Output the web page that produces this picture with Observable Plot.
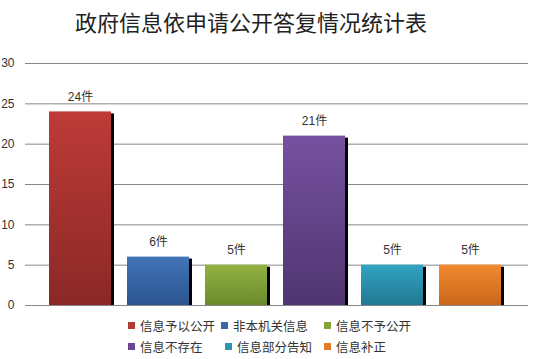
<!DOCTYPE html>
<html><head><meta charset="utf-8">
<script src="https://cdn.jsdelivr.net/npm/d3@7"></script>
<script src="https://cdn.jsdelivr.net/npm/@observablehq/plot@0.6"></script>
<style>
body{margin:0;background:#fff;font-family:"Noto Sans CJK SC",sans-serif;width:538px;height:359px;overflow:hidden;}
#title{height:40px;line-height:42px;font-size:22px;color:#222;padding-left:75px;white-space:nowrap;}
#chart svg{display:block;}
.lrow{display:flex;height:21px;align-items:center;padding-left:128px;font-size:12.5px;color:#333;white-space:nowrap;}
.item{display:flex;align-items:center;}
.sw{width:7px;height:7px;margin-right:5px;}
</style></head><body>
<div id="title">政府信息依申请公开答复情况统计表</div>
<div id="chart"></div>
<div id="legend"></div>
<script>
const categories = ["信息予以公开","非本机关信息","信息不予公开","信息不存在","信息部分告知","信息补正"];
const values = [24, 6, 5, 21, 5, 5];
const labels = values.map(v => v + "件");
const topColors = ["#be3b38","#4174b8","#93b342","#7651a0","#31a4c2","#f28a2e"];
const bottomColors = ["#8a2826","#2b5590","#6c8a2c","#4f3570","#217891","#c9661a"];
const legendColors = ["#b13835","#3a69a8","#86a43c","#6a4891","#2b97b3","#e57d26"];
const yTicks = [0, 5, 10, 15, 20, 25, 30];
const legendRows = [[0,1,2],[3,4,5]];
const legendWidths = [[93,103],[97,99]];

const data = categories.map((c, i) => ({cat: c, value: values[i], label: labels[i], fill: `url(#grad${i})`}));

const plot = Plot.plot({
  width: 538, height: 275,
  marginTop: 23, marginBottom: 10, marginLeft: 25, marginRight: 10,
  x: {domain: categories, axis: null, paddingInner: 0.2, paddingOuter: 0.1, insetLeft: 15, insetRight: 17},
  y: {domain: [0, 30], ticks: yTicks, label: null, tickSize: 0, tickPadding: 11},
  color: {type: "identity"},
  style: {fontFamily: "'Liberation Sans','Noto Sans CJK SC',sans-serif", fontSize: "12px", color: "#333", background: "#fff"},
  marks: [
    Plot.ruleY(yTicks, {stroke: "#878787", strokeWidth: 1}),
    Plot.barY(data, {x: "cat", y: "value", fill: "#000", dx: 3, insetTop: 2}),
    Plot.barY(data, {x: "cat", y: "value", fill: "fill"}),
    Plot.text(data, {x: "cat", y: "value", text: "label", dy: -15, fill: "#333", fontSize: 12})
  ]
});

const svg = d3.select(plot);
const defs = svg.insert("defs", ":first-child");
categories.forEach((c, i) => {
  const g = defs.append("linearGradient").attr("id", "grad" + i).attr("x1", 0).attr("y1", 0).attr("x2", 0).attr("y2", 1);
  g.append("stop").attr("offset", "0%").attr("stop-color", topColors[i]);
  g.append("stop").attr("offset", "100%").attr("stop-color", bottomColors[i]);
});
document.getElementById("chart").appendChild(plot);

const legend = d3.select("#legend");
legendRows.forEach((row, r) => {
  const rowDiv = legend.append("div").attr("class", "lrow");
  row.forEach((idx, k) => {
    const item = rowDiv.append("div").attr("class", "item");
    if (k < 2) item.style("width", legendWidths[r][k] + "px");
    item.append("div").attr("class", "sw").style("background", legendColors[idx]);
    item.append("span").text(categories[idx]);
  });
});
</script>
</body></html>
